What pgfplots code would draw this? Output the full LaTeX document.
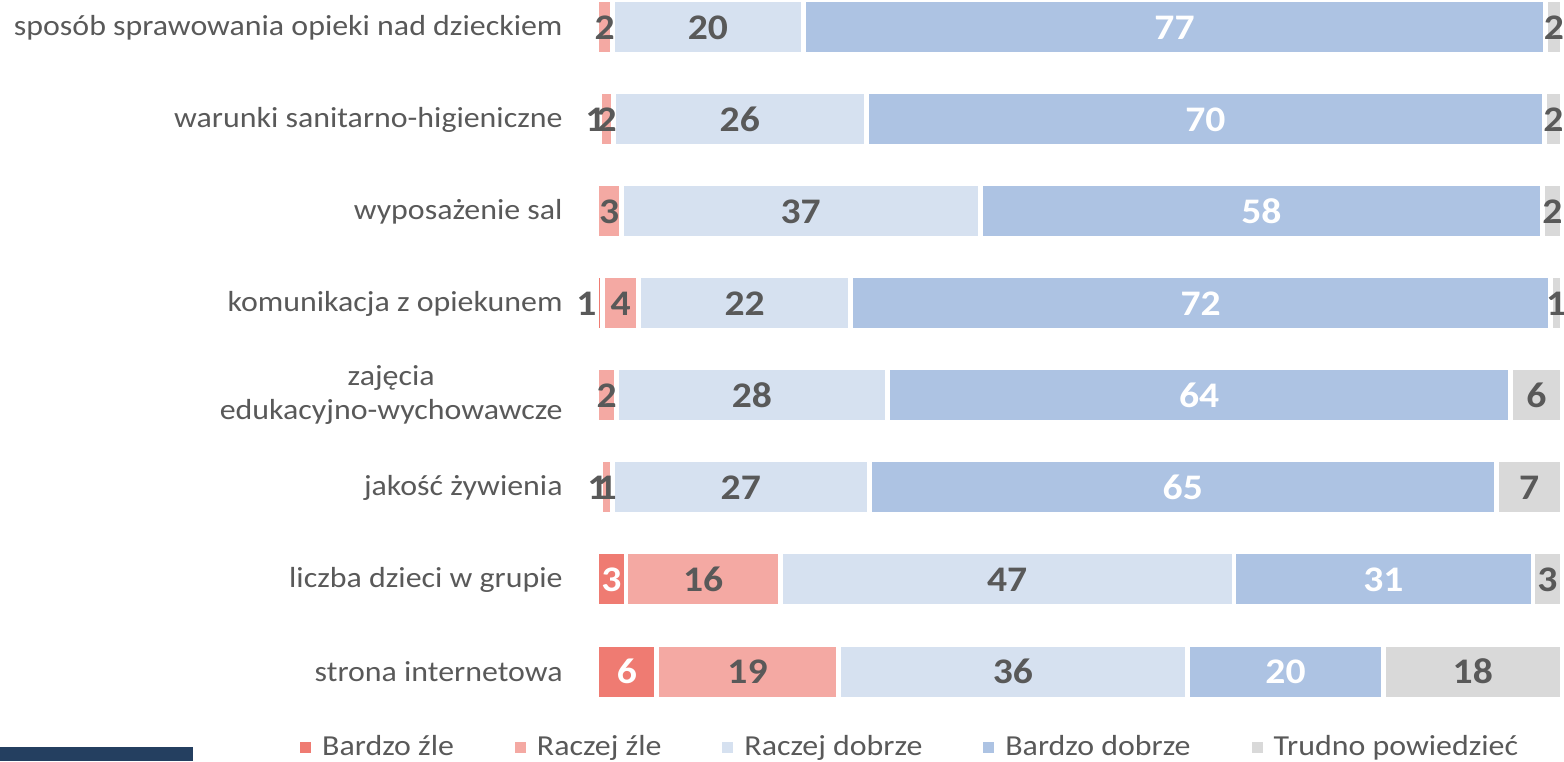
\documentclass[border=0pt]{standalone}
\usepackage{fontspec}
\setmainfont{Carlito}[FakeStretch=1.1]
\usepackage{pgfplots}
\usepackage{pgfplotstable}
\pgfplotsset{compat=1.18}

\definecolor{bz}{HTML}{EF7B72}
\definecolor{rz}{HTML}{F4A9A3}
\definecolor{rd}{HTML}{D6E1F0}
\definecolor{bd}{HTML}{ADC3E3}
\definecolor{tp}{HTML}{D9D9D9}
\definecolor{labgray}{HTML}{595959}
\definecolor{navy}{HTML}{243F60}

% widths (be..tp) and printed labels (lbe..ltp); idx 0 = bottom row
% cbe: 100 = white label, 0 = grey label; dbe: label shift in pt
\pgfplotstableread{
idx be  rz   rd   bd   tp   lbe lrz lrd lbd ltp cbe dbe
7   0   1.6  19.8 76.9 1.7  {}  2   20  77  2   100 0
6   0.3 1.4  26.2 70.3 1.8  1   2   26  70  2   0   -1.5
5   0   2.5  37.2 58.3 2.0  {}  3   37  58  2   100 0
4   0.6 3.7  22.0 72.5 1.2  1   4   22  72  1   0   -6.75
3   0   2.0  28.1 64.6 5.3  {}  2   28  64  6   100 0
2   0.4 1.2  26.6 65.0 6.8  1   1   27  65  7   0   -0.75
1   3.0 16.0 47.0 31.0 3.0  3   16  47  31  3   100 0
0   6.2 18.8 36.2 20.3 18.5 6   19  36  20  18  100 0
}\datatable

\pgfplotsset{
  sq/.style={legend image code/.code={\fill[##1, draw=none] (0pt,-2.75pt) rectangle (5.5pt,2.75pt);}},
}

\begin{document}
\begin{tikzpicture}
  \begin{axis}[
    at={(298.5pt,21.75pt)}, anchor=south west,
    scale only axis,
    width=482.5pt, height=360pt,
    xbar stacked,
    bar width=27.4pt,
    xmin=0, xmax=100,
    ymin=-0.5, ymax=7.326,
    axis line style={draw=none},
    xtick=\empty,
    ytick={0,...,7},
    yticklabels={strona internetowa, liczba dzieci w grupie, jakość żywienia,
      {zajęcia\\edukacyjno-wychowawcze}, komunikacja z opiekunem, wyposażenie sal,
      warunki sanitarno-higieniczne, sposób sprawowania opieki nad dzieckiem},
    major tick length=0pt,
    yticklabel style={anchor=east, inner sep=0pt, xshift=-17pt, align=center,
      text=labgray, font=\fontsize{14.5}{17}\selectfont},
    point meta=explicit symbolic,
    nodes near coords={\pgfplotspointmeta},
    every node near coord/.append style={anchor=center,
      font=\bfseries\fontsize{18}{20}\selectfont, text=labgray},
    clip=false,
    legend style={at={(-0.308,-0.041)}, anchor=west, draw=none, fill=none,
      inner sep=0pt, legend columns=5, text=labgray,
      font=\fontsize{14.5}{17}\selectfont,
      /tikz/every odd column/.append style={column sep=3.5pt},
      /tikz/every even column/.append style={column sep=28.5pt}},
  ]
    \addplot[sq, fill=bz, draw=white, line width=2.4pt,
      visualization depends on={\thisrow{cbe} \as \cw},
      visualization depends on={\thisrow{dbe} \as \dx},
      every node near coord/.append style={text=white!\cw!labgray, xshift=\dx pt}]
      table[x=be, y=idx, meta=lbe] {\datatable};
    \addplot[sq, fill=rz, draw=white, line width=2.4pt]
      table[x=rz, y=idx, meta=lrz] {\datatable};
    \addplot[sq, fill=rd, draw=white, line width=2.4pt]
      table[x=rd, y=idx, meta=lrd] {\datatable};
    \addplot[sq, fill=bd, draw=white, line width=2.4pt,
      every node near coord/.append style={text=white}]
      table[x=bd, y=idx, meta=lbd] {\datatable};
    \addplot[sq, fill=tp, draw=white, line width=2.4pt]
      table[x=tp, y=idx, meta=ltp] {\datatable};
    \legend{Bardzo źle, Raczej źle, Raczej dobrze, Bardzo dobrze, Trudno powiedzieć}
  \end{axis}
  \fill[navy] (0pt,0pt) rectangle (96.5pt,7pt);
  \pgfresetboundingbox
  \path[use as bounding box] (0pt,0pt) rectangle (782pt,380.5pt);
\end{tikzpicture}
\end{document}
